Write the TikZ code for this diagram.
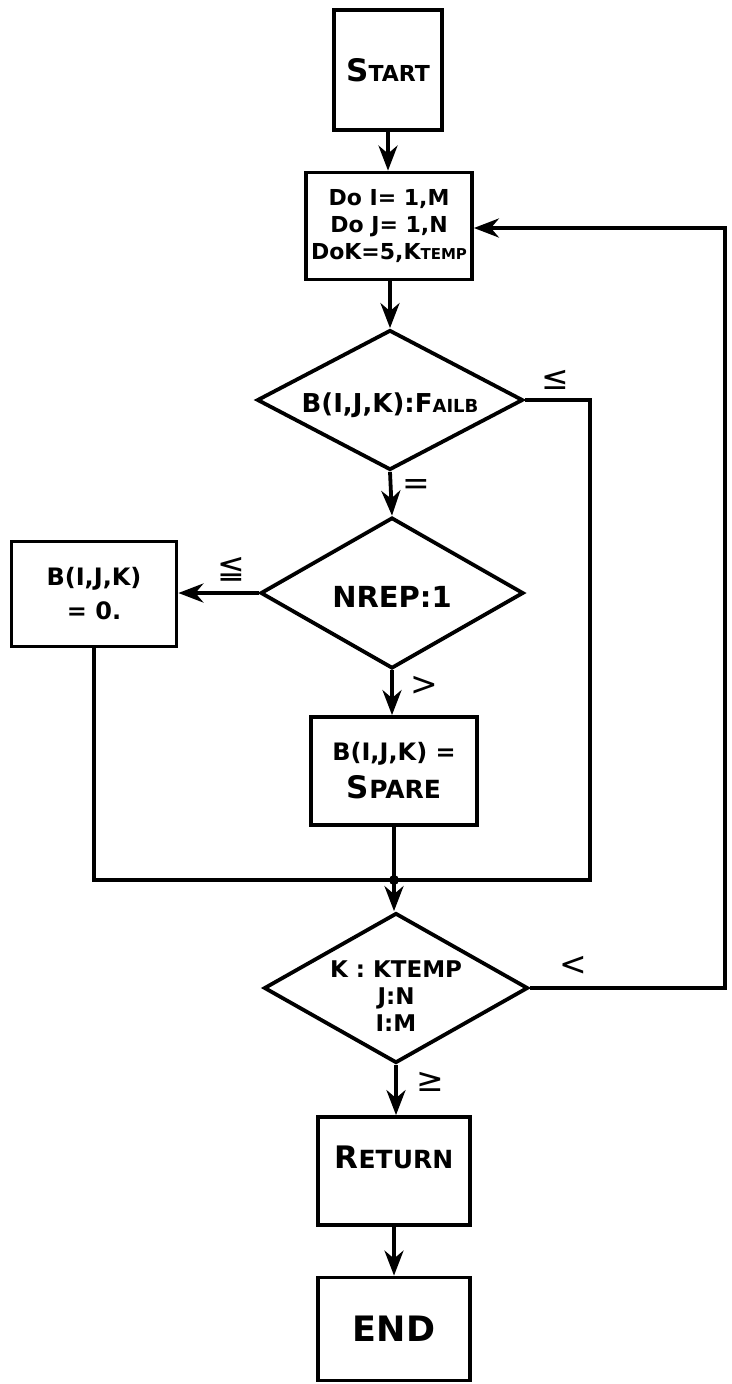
\documentclass[tikz,border=0pt]{standalone}
\usepackage{fontspec}
\setmainfont{DejaVu Sans}[UprightFont=* Bold]
\newfontfamily\symf{DejaVu Sans}
\usetikzlibrary{shapes.geometric,arrows.meta}
\newcommand\fs[2]{{\fontsize{#1}{#1}\selectfont #2}}
\begin{document}
\begin{tikzpicture}[x=1pt,y=-1pt,
  blk/.style={draw, rectangle, line width=3.8pt, inner sep=0pt, align=center},
  dia/.style={draw, diamond, line width=3.8pt, inner sep=0pt},
  dtext/.style={inner sep=0pt, align=center},
  link/.style={line width=3.8pt},
  arr/.style={line width=3.8pt, -{Stealth[length=25pt,width=19pt,inset=8pt]}},
  lbl/.style={inner sep=0pt, font=\symf\fontsize{33}{33}\selectfont}]
\useasboundingbox (0,0) rectangle (731,1384);

% boxes
\node[blk, minimum width=108pt, minimum height=120pt] (start) at (388,70)
  {\fs{31}{S}\fs{22}{TART}};
\node[blk, minimum width=166pt, minimum height=107pt,
  font=\fontsize{22}{26}\selectfont] (do) at (389,226)
  {Do I= 1,M\\[1pt]Do J= 1,N\\[1pt]DoK=5,K\fs{15}{TEMP}};
\node[dia, minimum width=266pt, minimum height=140pt] (d1) at (390,400) {};
\node[dtext] (d1t) at (390,405) {\fs{26}{B(I,J,K):F}\fs{18}{AILB}};
\node[dia, minimum width=263pt, minimum height=151pt] (d2) at (392,593) {};
\node[dtext] (d2t) at (392,597) {\fs{29}{NREP:1}};
\node[blk, minimum width=165pt, minimum height=105pt,
  font=\fontsize{24}{34}\selectfont] (zero) at (94,594)
  {B(I,J,K)\\= 0.};
\node[blk, minimum width=166pt, minimum height=108pt,
  font=\fontsize{24}{38}\selectfont] (spare) at (394,771)
  {B(I,J,K) =\\\fs{31}{S}\fs{25}{PARE}};
\coordinate (join) at (394,880);
\coordinate (rc) at (590,880);
\node[dia, minimum width=264pt, minimum height=150pt] (d3) at (396,988) {};
\node[dtext, font=\fontsize{23}{27}\selectfont] (d3t) at (396,996)
  {K : KTEMP\\J:N\\I:M};
\coordinate (fb) at (725,228);
\node[blk, minimum width=152pt, minimum height=108pt,
  text height=12pt, text depth=18pt] (ret) at (394,1171)
  {\fs{31}{R}\fs{25}{ETURN}};
\node[blk, minimum width=152pt, minimum height=103pt] (end) at (394,1329)
  {\fs{35}{END}};

% connectors
\draw[arr] (start.south) -- (start.south |- do.north);
\draw[arr] (do.south -| d1.north) -- (d1.north);
\draw[link] (d1.east) -| (rc) -- (join);
\draw[arr] (d1.south) -- (d2.north);
\draw[arr] (d2.west) -- (zero.east |- d2.west);
\draw[arr] (d2.south) -- (spare.north -| d2.south);
\draw[link] (zero.south) |- (join);
\draw[link] (spare.south) -- (join);
\fill (join) circle (5pt);
\draw[arr] (join) -- (join |- d3.north);
\draw[arr] (d3.east) -| (fb) -- (do.east |- fb);
\draw[arr] (d3.south) -- (ret.north -| d3.south);
\draw[arr] (ret.south) -- (end.north);

% labels
\node[lbl] (l1) at (555,380) {≤};
\node[lbl] (l2) at (416,487) {=};
\node[lbl] (l3) at (231,569) {≦};
\node[lbl] (l4) at (424,686) {>};
\node[lbl] (l5) at (573,966) {<};
\node[lbl] (l6) at (430,1082) {≥};
\end{tikzpicture}
\end{document}
